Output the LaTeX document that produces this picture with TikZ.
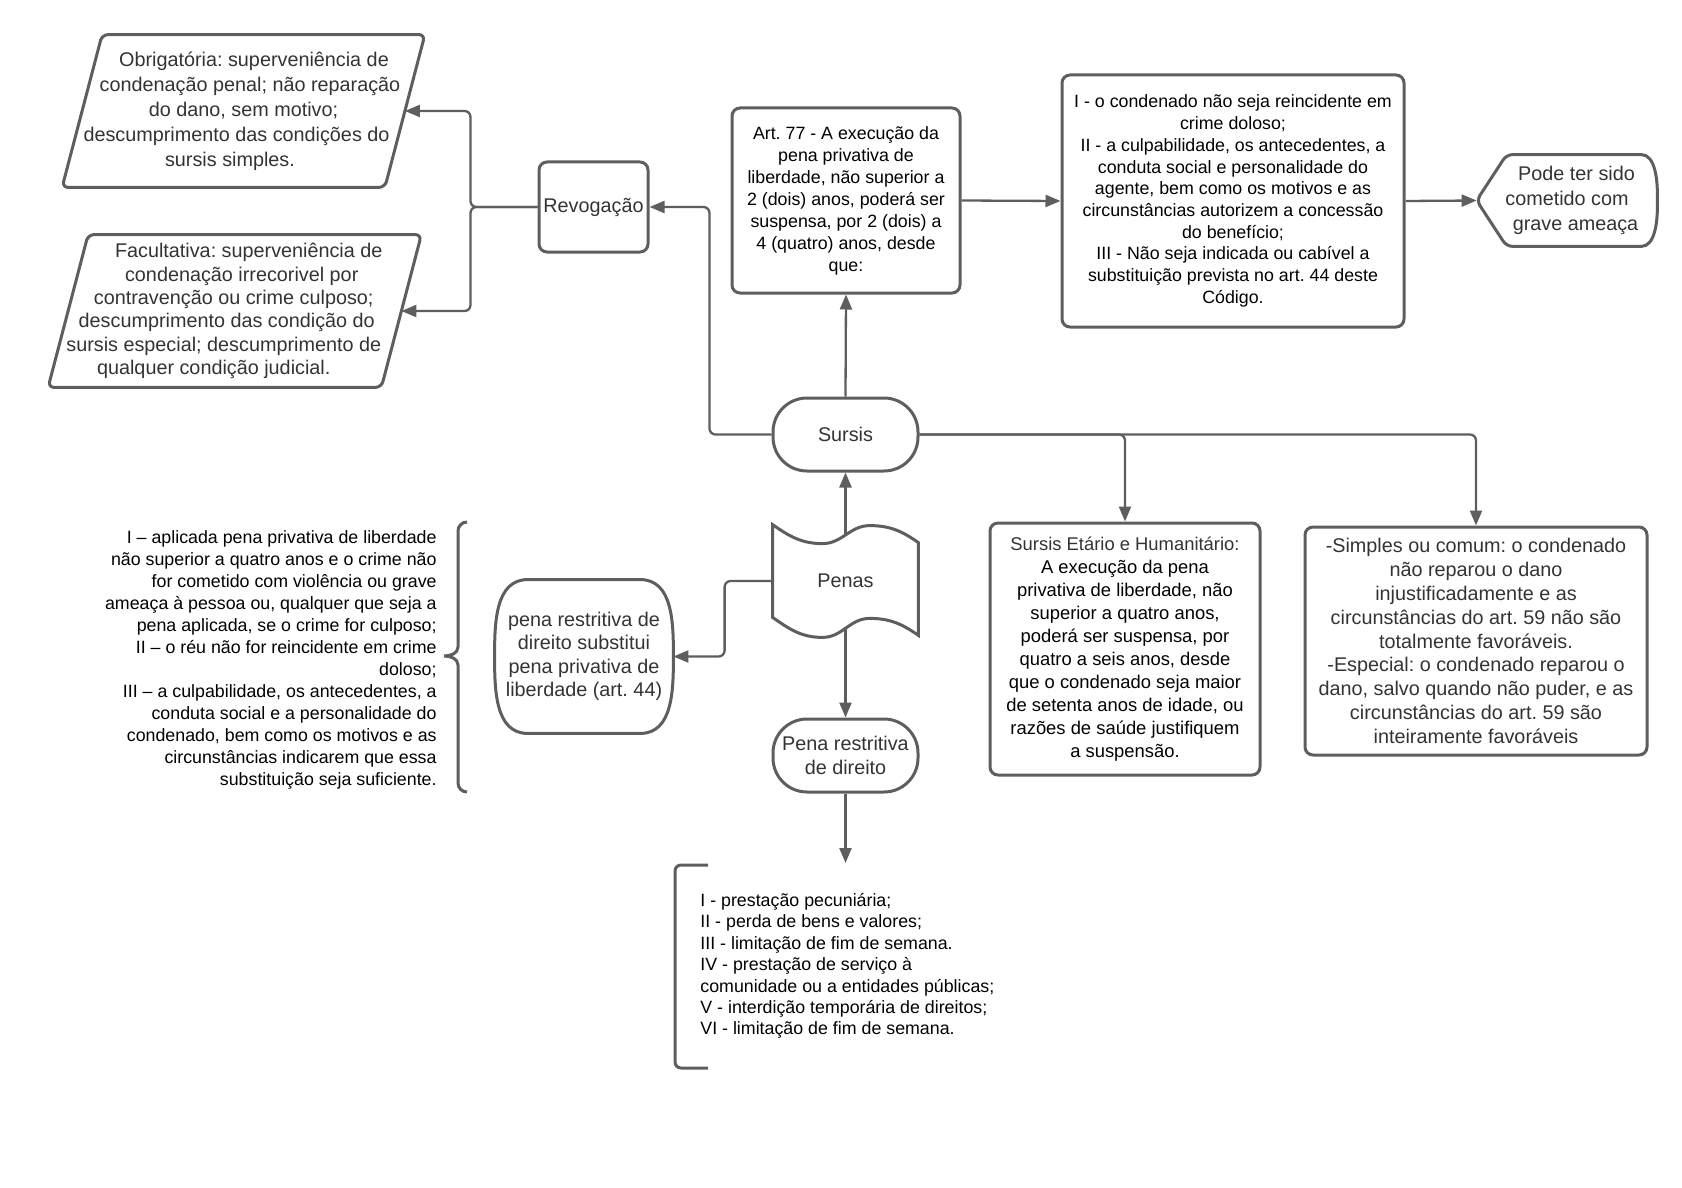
\documentclass[tikz,border=0pt]{standalone}
\usepackage{fontspec}
\setmainfont{Liberation Sans}
\usetikzlibrary{calc}
\usetikzlibrary{arrows.meta}
\definecolor{linegray}{HTML}{5E5E5E}
\definecolor{textgray}{HTML}{333333}
\newcommand{\shiftln}[1]{\hspace*{#1pt}}
\frenchspacing

\begin{document}
\begin{tikzpicture}[x=0.5pt, y=-0.5pt,
  box/.style={draw=linegray, line width=1.5pt, rounded corners=4pt, align=center, inner sep=0pt, text=black, font=\fontsize{8.9}{11}\selectfont},
  bigbox/.style={box, text=textgray, font=\fontsize{9.9}{12}\selectfont},
  plain/.style={align=center, inner sep=0pt, text=textgray, font=\fontsize{9.9}{12}\selectfont},
  outline/.style={draw=linegray, line width=1.5pt, rounded corners=3pt},
  conn/.style={draw=linegray, line width=1.15pt, rounded corners=3pt, -{Triangle[length=7.5pt,width=6pt]}}]
\useasboundingbox (0,0) rectangle (1682,1188);

\node[plain, minimum width=161pt, minimum height=76pt, font=\fontsize{9.9}{12.5}\selectfont] (obrig) at (243.5,111) {\shiftln{10.5}Obrigatória: superveniência de\\\shiftln{6.5}condenação penal; não reparação\\do dano, sem motivo;\\\shiftln{-7}descumprimento das condições do\\\shiftln{-13.5}sursis simples.};
\node[plain, minimum width=166.25pt, minimum height=76pt, font=\fontsize{9.9}{11.7}\selectfont] (facul) at (234.75,311) {\shiftln{14}Facultativa: superveniência de\\\shiftln{7}condenação irrecorivel por\\\shiftln{-1}contravenção ou crime culposo;\\\shiftln{-8}descumprimento das condição do\\\shiftln{-11}sursis especial; descumprimento de\\\shiftln{-21}qualquer condição judicial.};
\foreach \n in {obrig, facul} \draw[outline] ($(\n.north west)+(20,0)$) -- ($(\n.north east)+(20,0)$) -- ($(\n.south east)+(-20,0)$) -- ($(\n.south west)+(-20,0)$) -- cycle;

\node[bigbox, minimum width=54.5pt, minimum height=45pt] (revog) at (593.5,207) {Revogação};
\node[box, minimum width=114pt, minimum height=92.5pt] (art) at (846,200.5) {Art. 77 - A execução da\\pena privativa de\\liberdade, não superior a\\2 (dois) anos, poderá ser\\suspensa, por 2 (dois) a\\4 (quatro) anos, desde\\que:};
\node[box, minimum width=171pt, minimum height=126pt, font=\fontsize{8.9}{10.85}\selectfont] (incisos) at (1233,201) {I - o condenado não seja reincidente em\\crime doloso;\\II - a culpabilidade, os antecedentes, a\\conduta social e personalidade do\\agente, bem como os motivos e as\\circunstâncias autorizem a concessão\\do benefício;\\III - Não seja indicada ou cabível a\\substituição prevista no art. 44 deste\\Código.};

\node[plain, minimum width=90pt, minimum height=45.5pt, font=\fontsize{9.9}{12.5}\selectfont] (pode) at (1567,200.5) {\shiftln{9.5}Pode ter sido\\cometido com\\\shiftln{8.5}grave ameaça};
\draw[outline] (pode.west) -- ($(pode.north west)+(30,0)$) -- ($(pode.north east)+(-22,0)$) to[out=0,in=90] (pode.east) to[out=-90,in=0] ($(pode.south east)+(-22,0)$) -- ($(pode.south west)+(30,0)$) -- cycle;

\node[bigbox, rounded corners=17pt, minimum width=72.5pt, minimum height=36.5pt] (sursis) at (845.5,434.5) {Sursis};

\node[plain, minimum width=72.5pt, minimum height=56pt] (penas) at (845.5,581) {Penas};
\draw[outline, sharp corners] (penas.north west) to[out=-35,in=180] ($(penas.north west)+(50,19)$) to[out=0,in=180] ($(penas.north west)+(97,1)$) to[out=0,in=145] ($(penas.north east)+(0,18)$) -- ($(penas.south east)+(0,-2)$) to[out=145,in=0] ($(penas.south west)+(97,-19)$) to[out=180,in=0] ($(penas.south west)+(50,0)$) to[out=180,in=-35] ($(penas.south west)+(0,-20)$) -- cycle;

\node[bigbox, rounded corners=17pt, minimum width=72.5pt, minimum height=36.5pt] (prd) at (845.5,755.5) {Pena restritiva\\de direito};

\node[plain, minimum width=89pt, minimum height=76.5pt, font=\fontsize{9.9}{11.7}\selectfont] (subst) at (584,656.5) {pena restritiva de\\direito substitui\\pena privativa de\\liberdade (art. 44)};
\draw[outline, sharp corners] ($(subst.north west)+(33,0)$) -- ($(subst.north east)+(-33,0)$) to[out=0,in=90] (subst.east) to[out=-90,in=0] ($(subst.south east)+(-33,0)$) -- ($(subst.south west)+(33,0)$) to[out=180,in=-90] (subst.west) to[out=90,in=180] ($(subst.north west)+(33,0)$) -- cycle;

\node[box, minimum width=135pt, minimum height=126pt, font=\fontsize{9.2}{11.5}\selectfont] (etario) at (1125,649) {\textcolor{textgray}{Sursis Etário e Humanitário:}\\A execução da pena\\privativa de liberdade, não\\superior a quatro anos,\\poderá ser suspensa, por\\quatro a seis anos, desde\\que o condenado seja maior\\de setenta anos de idade, ou\\razões de saúde justifiquem\\a suspensão.};
\node[bigbox, minimum width=171pt, minimum height=114pt, font=\fontsize{9.9}{11.9}\selectfont] (simples) at (1476,641) {-Simples ou comum: o condenado\\não reparou o dano\\injustificadamente e as\\circunstâncias do art. 59 não são\\totalmente favoráveis.\\-Especial: o condenado reparou o\\dano, salvo quando não puder, e as\\circunstâncias do art. 59 são\\inteiramente favoráveis};

\node[anchor=east, align=right, inner sep=0pt, font=\fontsize{8.9}{11}\selectfont] (req) at (437,660) {I – aplicada pena privativa de liberdade\\não superior a quatro anos e o crime não\\for cometido com violência ou grave\\ameaça à pessoa ou, qualquer que seja a\\pena aplicada, se o crime for culposo;\\II – o réu não for reincidente em crime\\doloso;\\III – a culpabilidade, os antecedentes, a\\conduta social e a personalidade do\\condenado, bem como os motivos e as\\circunstâncias indicarem que essa\\substituição seja suficiente.};
\draw[outline, sharp corners] (467,522) to[out=180,in=90] (458,531) -- (458,647) to[out=-90,in=0] (444,656) to[out=0,in=90] (458,665) -- (458,783) to[out=-90,in=180] (467,792);

\node[anchor=west, align=left, inner sep=0pt, font=\fontsize{8.9}{10.7}\selectfont] (lista) at (700,966) {I - prestação pecuniária;\\II - perda de bens e valores;\\III - limitação de fim de semana.\\IV - prestação de serviço à\\comunidade ou a entidades públicas;\\V - interdição temporária de direitos;\\VI - limitação de fim de semana.};
\draw[outline] (708,865) -- (675,865) -- (675,1068) -- (708,1068);
\coordinate (listtop) at (845.5,863);

\draw[conn] (revog.west) -- ++(-67,0) |- (obrig.east);
\draw[conn] (revog.west) -- ++(-67,0) |- (facul.east);
\draw[conn] (sursis.west) -- ++(-62,0) |- (revog.east);
\draw[conn] (sursis.north) -- (art.south);
\draw[conn] (art.east) -- (incisos.west);
\draw[conn] (incisos.east) -- (pode.west);
\draw[conn] (sursis.east) -| (etario.north);
\draw[conn] (sursis.east) -| (simples.north);
\draw[conn] ($(penas.north)+(0,10)$) -- (sursis.south);
\draw[conn] (penas.west) -- ++(-48,0) |- (subst.east);
\draw[conn] ($(penas.south)+(0,-10)$) -- (prd.north);
\draw[conn] (prd.south) -- (listtop);
\end{tikzpicture}
\end{document}
